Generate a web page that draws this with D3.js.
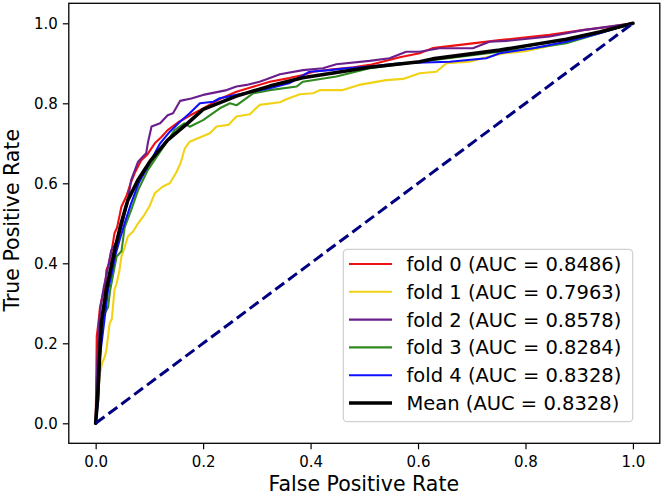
<!DOCTYPE html>
<html><head><meta charset="utf-8">
<script src="https://cdn.jsdelivr.net/npm/d3@7"></script>
<style>body{margin:0;background:#fff}svg{display:block;font-family:"DejaVu Sans",sans-serif}</style>
</head><body><svg id="c" width="664" height="496"></svg>
<script>
const xTicks = [0, 0.2, 0.4, 0.6, 0.8, 1.0];
const yTicks = [0, 0.2, 0.4, 0.6, 0.8, 1.0];
const labels = ["fold 0 (AUC = 0.8486)","fold 1 (AUC = 0.7963)","fold 2 (AUC = 0.8578)","fold 3 (AUC = 0.8284)","fold 4 (AUC = 0.8328)","Mean (AUC = 0.8328)"];
const colors = ["#ee1111","#f2d214","#6c1f8c","#2f8a1f","#1010ff","#000000"];
const fold0 = [[0,0],[0.001,0.10],[0.002,0.217],[0.005,0.25],[0.008,0.29],[0.014,0.325],[0.017,0.33],[0.02,0.383],[0.025,0.40],[0.03,0.433],[0.035,0.475],[0.04,0.49],[0.048,0.542],[0.057,0.567],[0.065,0.60],[0.0725,0.625],[0.085,0.658],[0.095,0.67],[0.11,0.70],[0.122,0.715],[0.134,0.733],[0.153,0.752],[0.172,0.767],[0.2,0.7875],[0.23,0.81],[0.262,0.829],[0.29,0.84],[0.324,0.854],[0.36,0.863],[0.386,0.871],[0.405,0.879],[0.441,0.885],[0.48,0.89],[0.51,0.896],[0.566,0.915],[0.603,0.925],[0.627,0.938],[0.69,0.948],[0.752,0.958],[0.845,0.971],[0.906,0.983],[0.95,0.99],[1,1]];
const fold1 = [[0,0],[0.002,0.02],[0.005,0.08],[0.008,0.125],[0.012,0.15],[0.017,0.167],[0.02,0.183],[0.026,0.25],[0.03,0.26],[0.035,0.333],[0.039,0.35],[0.044,0.38],[0.048,0.417],[0.054,0.44],[0.06,0.467],[0.07,0.48],[0.079,0.5],[0.09,0.52],[0.1,0.542],[0.11,0.575],[0.125,0.592],[0.138,0.60],[0.15,0.627],[0.158,0.65],[0.166,0.6875],[0.175,0.704],[0.2125,0.725],[0.225,0.742],[0.247,0.746],[0.262,0.767],[0.287,0.7725],[0.305,0.796],[0.343,0.8025],[0.355,0.81],[0.38,0.8225],[0.405,0.825],[0.417,0.833],[0.46,0.833],[0.49,0.846],[0.541,0.858],[0.572,0.861],[0.603,0.875],[0.634,0.879],[0.653,0.9],[0.696,0.904],[0.727,0.915],[0.76,0.925],[0.8,0.93],[0.85,0.945],[0.9,0.962],[0.95,0.98],[1,1]];
const fold2 = [[0,0],[0.003,0.15],[0.006,0.25],[0.01,0.30],[0.015,0.34],[0.02,0.37],[0.029,0.433],[0.041,0.458],[0.05,0.50],[0.06,0.558],[0.066,0.608],[0.079,0.654],[0.088,0.667],[0.094,0.675],[0.097,0.70],[0.104,0.742],[0.12,0.75],[0.134,0.77],[0.144,0.775],[0.157,0.806],[0.178,0.812],[0.2,0.821],[0.244,0.833],[0.262,0.842],[0.281,0.846],[0.305,0.854],[0.318,0.86],[0.343,0.8725],[0.386,0.883],[0.423,0.8875],[0.448,0.8975],[0.51,0.906],[0.547,0.9125],[0.578,0.929],[0.603,0.929],[0.64,0.9375],[0.702,0.9375],[0.733,0.954],[0.764,0.956],[0.845,0.967],[0.907,0.983],[1,1]];
const fold3 = [[0,0],[0.004,0.08],[0.008,0.18],[0.014,0.267],[0.023,0.29],[0.027,0.333],[0.033,0.375],[0.039,0.417],[0.048,0.43],[0.054,0.49],[0.066,0.533],[0.079,0.583],[0.097,0.633],[0.122,0.683],[0.147,0.733],[0.165,0.75],[0.175,0.7415],[0.2,0.758],[0.231,0.7875],[0.25,0.8],[0.262,0.795],[0.293,0.825],[0.324,0.833],[0.374,0.842],[0.386,0.854],[0.448,0.867],[0.51,0.8875],[0.603,0.904],[0.627,0.908],[0.752,0.929],[0.814,0.9375],[0.876,0.95],[0.907,0.9625],[1,1]];
const fold4 = [[0,0],[0.005,0.058],[0.008,0.167],[0.017,0.267],[0.023,0.333],[0.03,0.375],[0.036,0.417],[0.045,0.46],[0.054,0.5],[0.066,0.55],[0.08,0.60],[0.1,0.65],[0.12,0.70],[0.138,0.729],[0.157,0.754],[0.175,0.775],[0.194,0.8],[0.219,0.804],[0.231,0.8125],[0.262,0.821],[0.324,0.8375],[0.36,0.85],[0.398,0.879],[0.436,0.883],[0.467,0.8875],[0.51,0.892],[0.566,0.9],[0.659,0.904],[0.727,0.9125],[0.752,0.925],[0.814,0.9375],[0.876,0.954],[0.938,0.975],[1,1]];
const meanRoc = [[0,0],[0.0043,0.083],[0.0104,0.251],[0.0197,0.333],[0.0353,0.433],[0.0476,0.501],[0.06,0.558],[0.0787,0.608],[0.103,0.658],[0.134,0.708],[0.172,0.751],[0.2,0.785],[0.262,0.818],[0.324,0.843],[0.385,0.864],[0.448,0.877],[0.51,0.89],[0.603,0.904],[0.627,0.911],[0.752,0.933],[0.876,0.96],[0.938,0.978],[1,1]];
const chance = [[0,0],[1,1]];

const series = [fold0, fold1, fold2, fold3, fold4, meanRoc];
const svg = d3.select("#c");
const L = 68.8, R = 659.8, T = 3.3, B = 443.3;
const x = d3.scaleLinear().domain([-0.05, 1.05]).range([L, R]);
const y = d3.scaleLinear().domain([-0.05, 1.05]).range([B, T]);

svg.append("defs").append("clipPath").attr("id","clip").append("rect")
  .attr("x",L).attr("y",T).attr("width",R-L).attr("height",B-T);

const line = d3.line().x(d => x(d[0])).y(d => y(d[1]));
const g = svg.append("g").attr("clip-path","url(#clip)");
series.forEach((s,i) => {
  g.append("path").datum(s).attr("d", line).attr("fill","none")
    .attr("stroke", colors[i]).attr("stroke-width", i === 5 ? 3.6 : 2.1)
    .attr("stroke-linejoin","round").attr("stroke-linecap","round");
});
g.append("path").datum(chance).attr("d", line).attr("fill","none")
  .attr("stroke","#000080").attr("stroke-width",3).attr("stroke-dasharray","11,5");

// axes
const xa = svg.append("g").attr("transform",`translate(0,${B})`)
  .call(d3.axisBottom(x).tickValues(xTicks).tickFormat(d3.format(".1f")).tickSize(6).tickPadding(7));
const ya = svg.append("g").attr("transform",`translate(${L},0)`)
  .call(d3.axisLeft(y).tickValues(yTicks).tickFormat(d3.format(".1f")).tickSize(6).tickPadding(5));
[xa, ya].forEach(a => {
  a.select(".domain").remove();
  a.selectAll("line").attr("stroke","#000").attr("stroke-width",1.2);
  a.selectAll("text").attr("font-family","DejaVu Sans").attr("font-size",15).attr("fill","#000");
});
svg.append("rect").attr("x",L).attr("y",T).attr("width",R-L).attr("height",B-T)
  .attr("fill","none").attr("stroke","#000").attr("stroke-width",1.3);

svg.append("text").attr("x",(L+R)/2 - 0.5).attr("y",491).attr("text-anchor","middle")
  .attr("font-size",20.5).text("False Positive Rate");
svg.append("text").attr("transform",`translate(18.5,${(T+B)/2 - 3}) rotate(-90)`).attr("text-anchor","middle")
  .attr("font-size",20.5).text("True Positive Rate");

// legend
const lg = svg.append("g");
lg.append("rect").attr("x",343.3).attr("y",249.3).attr("width",289.4).attr("height",172.4)
  .attr("rx",4).attr("fill","#fff").attr("fill-opacity",0.8).attr("stroke","#d0d0d0").attr("stroke-width",1.2);
labels.forEach((t,i) => {
  const cy = 264 + i*27.8;
  lg.append("line").attr("x1",349).attr("x2",392).attr("y1",cy).attr("y2",cy)
    .attr("stroke",colors[i]).attr("stroke-width", i === 5 ? 3.6 : 2.1);
  lg.append("text").attr("x",406.5).attr("y",cy+7).attr("font-size",19.5).text(t);
});
</script></body></html>
